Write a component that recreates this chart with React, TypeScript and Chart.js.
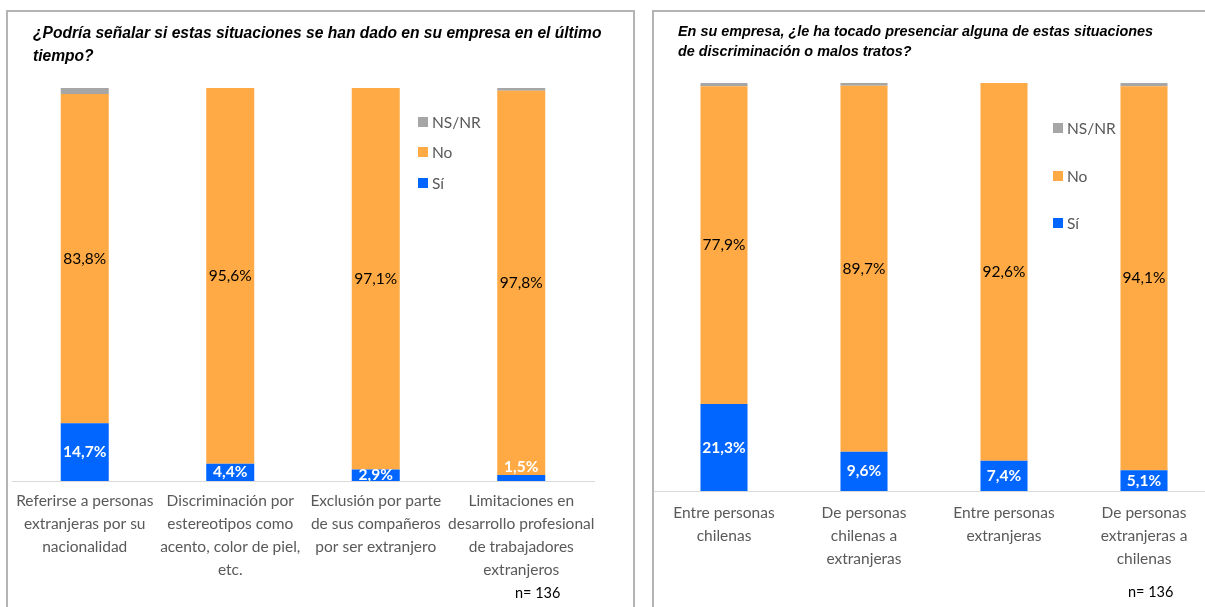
import React, { useEffect, useRef } from "react";
import { Chart, registerables } from "chart.js";

Chart.register(...registerables);

const BLUE = "#0066FF";
const ORANGE = "#FFAA45";
const GRAY = "#A6A6A6";
const TEXT_GRAY = "#595959";
const FONT = "Lato, 'Open Sans', sans-serif";
const TITLE_FONT = "'Liberation Sans', Arial, sans-serif";

// ---- Left chart data ----
const leftTitle = ["¿Podría señalar si estas situaciones se han dado en su empresa en el último", "tiempo?"];
const leftCategories = [
  ["Referirse a personas", "extranjeras por su", "nacionalidad"],
  ["Discriminación por", "estereotipos como", "acento, color de piel,", "etc."],
  ["Exclusión por parte", "de sus compañeros", "por ser extranjero"],
  ["Limitaciones en", "desarrollo profesional", "de trabajadores", "extranjeros"],
];
const leftSi = [14.7, 4.4, 2.9, 1.5];
const leftNo = [83.8, 95.6, 97.1, 97.8];
const leftNsnr = [1.5, 0, 0, 0.7];

// ---- Right chart data ----
const rightTitle = ["En su empresa, ¿le ha tocado presenciar alguna de estas situaciones", "de discriminación o malos tratos?"];
const rightCategories = [
  ["Entre personas", "chilenas"],
  ["De personas", "chilenas a", "extranjeras"],
  ["Entre personas", "extranjeras"],
  ["De personas", "extranjeras a", "chilenas"],
];
const rightSi = [21.3, 9.6, 7.4, 5.1];
const rightNo = [77.9, 89.7, 92.6, 94.1];
const rightNsnr = [0.8, 0.7, 0, 0.8];

const seriesNames = ["Sí", "No", "NS/NR"];
const sampleLabel = "n= 136";

const valueLabels = {
  id: "valueLabels",
  afterDatasetsDraw(chart: any) {
    const ctx = chart.ctx;
    const area = chart.chartArea;
    ctx.save();
    ctx.beginPath();
    ctx.rect(area.left, 0, area.right - area.left, area.bottom);
    ctx.clip();
    chart.data.datasets.forEach((ds: any, di: number) => {
      const style = ds.labelStyle;
      if (!style) return;
      const meta = chart.getDatasetMeta(di);
      meta.data.forEach((el: any, i: number) => {
        const v = ds.data[i];
        if (!v) return;
        const { x, y, base } = el.getProps(["x", "y", "base"], true);
        const h = base - y;
        let cy = (y + base) / 2;
        if (h < 10) cy = y - 8;
        ctx.font = style.font;
        ctx.fillStyle = style.color;
        ctx.textAlign = "center";
        ctx.textBaseline = "middle";
        ctx.fillText(v.toFixed(1).replace(".", ",") + "%", x, cy);
      });
    });
    ctx.restore();
  },
};

type PanelProps = {
  categories: string[][];
  si: number[];
  no: number[];
  nsnr: number[];
  width: number;
  height: number;
  padding: { left: number; right: number; top: number };
  axisHeight: number;
  tickPadding: number;
  barPct: number;
};

function BarChart(p: PanelProps) {
  const ref = useRef<HTMLCanvasElement | null>(null);
  useEffect(() => {
    if (!ref.current) return;
    const chart = new Chart(ref.current, {
      type: "bar",
      data: {
        labels: p.categories as any,
        datasets: [
          {
            label: seriesNames[0],
            data: p.si,
            backgroundColor: BLUE,
            labelStyle: { font: `bold 15.5px ${FONT}`, color: "#FFFFFF" },
          } as any,
          {
            label: seriesNames[1],
            data: p.no,
            backgroundColor: ORANGE,
            labelStyle: { font: `15.5px ${FONT}`, color: "#000000" },
          } as any,
          {
            label: seriesNames[2],
            data: p.nsnr,
            backgroundColor: GRAY,
          } as any,
        ],
      },
      options: {
        responsive: false,
        animation: false,
        maintainAspectRatio: false,
        layout: { padding: { left: p.padding.left, right: p.padding.right, top: p.padding.top, bottom: 0 } },
        datasets: { bar: { categoryPercentage: 1, barPercentage: p.barPct, borderWidth: 0 } },
        plugins: { legend: { display: false }, tooltip: { enabled: false }, title: { display: false } },
        scales: {
          x: {
            stacked: true,
            grid: { display: false },
            border: { display: true, color: "#D9D9D9", width: 1 },
            ticks: {
              autoSkip: false,
              maxRotation: 0,
              minRotation: 0,
              padding: p.tickPadding,
              color: TEXT_GRAY,
              font: { family: FONT, size: 15.5, lineHeight: 1.48 },
            },
            afterFit: (scale: any) => {
              scale.height = p.axisHeight;
            },
          },
          y: { stacked: true, display: false, min: 0, max: 100 },
        },
      },
      plugins: [valueLabels],
    });
    return () => chart.destroy();
  }, []);
  return <canvas ref={ref} width={p.width} height={p.height} style={{ width: p.width, height: p.height, display: "block" }} />;
}

function Legend({ left, tops }: { left: number; tops: number[] }) {
  const items = [
    { name: seriesNames[2], color: GRAY },
    { name: seriesNames[1], color: ORANGE },
    { name: seriesNames[0], color: BLUE },
  ];
  return (
    <>
      {items.map((it, i) => (
        <div
          key={it.name}
          style={{
            position: "absolute",
            left,
            top: tops[i] - 10,
            height: 20,
            display: "flex",
            alignItems: "center",
            fontFamily: FONT,
            fontSize: 15.5,
            color: TEXT_GRAY,
            whiteSpace: "nowrap",
          }}
        >
          <span style={{ display: "inline-block", width: 10, height: 10, background: it.color, marginRight: 4 }} />
          {it.name}
        </div>
      ))}
    </>
  );
}

export default function App() {
  return (
    <div style={{ position: "fixed", left: 0, top: 0, width: 1205, height: 607, overflow: "hidden", background: "#FFFFFF" }}>
      {/* Left panel */}
      <div style={{ position: "absolute", left: 6, top: 10, width: 629, height: 640, border: "2px solid #B4B4B4", boxSizing: "border-box" }} />
      <div style={{ position: "absolute", left: 0, top: 0 }}>
        <BarChart
          categories={leftCategories}
          si={leftSi}
          no={leftNo}
          nsnr={leftNsnr}
          width={640}
          height={607}
          padding={{ left: 12, right: 46, top: 88 }}
          axisHeight={126}
          tickPadding={1}
          barPct={0.33}
        />
      </div>
      <div
        style={{
          position: "absolute",
          left: 33,
          top: 21,
          fontFamily: TITLE_FONT,
          fontWeight: "bold",
          fontStyle: "italic",
          fontSize: 15.6,
          lineHeight: "23px",
          color: "#000",
          whiteSpace: "nowrap",
        }}
      >
        {leftTitle[0]}
        <br />
        {leftTitle[1]}
      </div>
      <Legend left={418} tops={[122, 152, 183]} />
      <div style={{ position: "absolute", left: 515, top: 584, fontFamily: FONT, fontSize: 14.5, color: "#000", whiteSpace: "nowrap" }}>{sampleLabel}</div>

      {/* Right panel */}
      <div style={{ position: "absolute", left: 652, top: 10, width: 600, height: 640, border: "2px solid #B4B4B4", boxSizing: "border-box" }} />
      <div style={{ position: "absolute", left: 640, top: 0 }}>
        <BarChart
          categories={rightCategories}
          si={rightSi}
          no={rightNo}
          nsnr={rightNsnr}
          width={580}
          height={607}
          padding={{ left: 14, right: 6, top: 83 }}
          axisHeight={116}
          tickPadding={3}
          barPct={0.336}
        />
      </div>
      <div
        style={{
          position: "absolute",
          left: 678,
          top: 21,
          fontFamily: TITLE_FONT,
          fontWeight: "bold",
          fontStyle: "italic",
          fontSize: 14.4,
          lineHeight: "20px",
          color: "#000",
          whiteSpace: "nowrap",
        }}
      >
        {rightTitle[0]}
        <br />
        {rightTitle[1]}
      </div>
      <Legend left={1053} tops={[128, 176, 223]} />
      <div style={{ position: "absolute", left: 1128, top: 583, fontFamily: FONT, fontSize: 14.5, color: "#000", whiteSpace: "nowrap" }}>{sampleLabel}</div>
    </div>
  );
}
